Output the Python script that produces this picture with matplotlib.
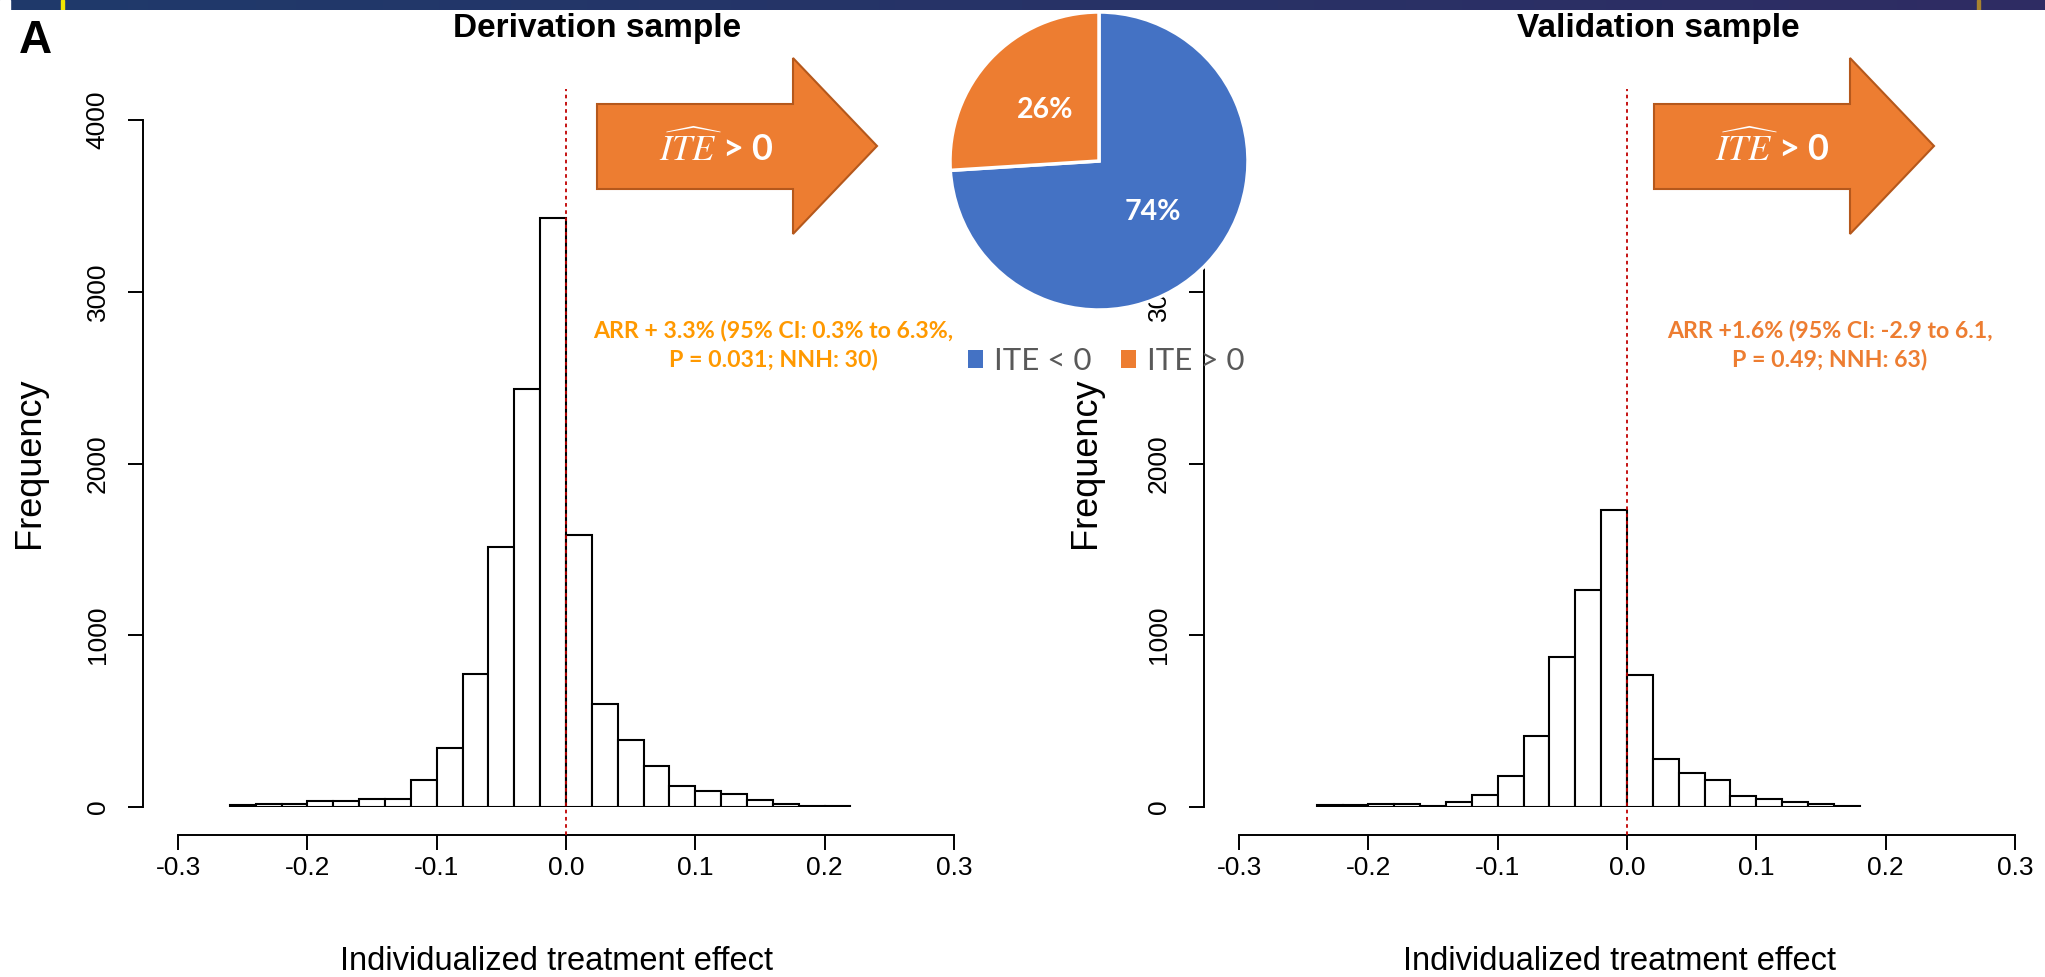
import numpy as np
import matplotlib
matplotlib.use("Agg")
import matplotlib.pyplot as plt
from matplotlib.patches import Polygon, Patch

# ---------------- data ----------------
bin_width = 0.02
deriv_start = -0.26
deriv_counts = [10, 15, 15, 35, 35, 49, 49, 159, 344, 773, 1515, 2435, 3430,
                1586, 598, 388, 241, 122, 91, 78, 39, 17, 8, 8]
valid_start = -0.24
valid_counts = [10, 10, 17, 17, 8, 29, 68, 179, 414, 874, 1262, 1728,
                771, 282, 200, 159, 62, 49, 27, 17, 8]

x_ticks = [-0.3, -0.2, -0.1, 0.0, 0.1, 0.2, 0.3]
x_ticklabels = ["-0.3", "-0.2", "-0.1", "0.0", "0.1", "0.2", "0.3"]
y_ticks = [0, 1000, 2000, 3000, 4000]
y_ticklabels = ["0", "1000", "2000", "3000", "4000"]

titles = ["Derivation sample", "Validation sample"]
xlabel = "Individualized treatment effect"
ylabel = "Frequency"

pie_labels = ["ITE < 0", "ITE > 0"]
pie_values = [74, 26]
pie_colors = ["#4472C4", "#ED7D31"]

arrow_text = r"$\widehat{ITE}$ > 0"
ann_left = ["ARR + 3.3% (95% CI: 0.3% to 6.3%,", "P = 0.031; NNH: 30)"]
ann_right = ["ARR +1.6% (95% CI: -2.9 to 6.1,", "P = 0.49; NNH: 63)"]
panel_letter = "A"

# ---------------- figure ----------------
W, H = 2045, 977
plt.rcParams["mathtext.fontset"] = "stix"
fig = plt.figure(figsize=(W / 100, H / 100), dpi=100)
fig.patch.set_facecolor("white")


def fx(px):
    return px / W


def fy(py):
    return 1 - py / H


AXFONT = "Liberation Sans"
CAL = "Lato"

panels = [
    dict(left=143, right=960, zero=566, start=deriv_start, counts=deriv_counts,
         title=titles[0], title_x=597, ylab_x=29),
    dict(left=1204, right=2025, zero=1627, start=valid_start, counts=valid_counts,
         title=titles[1], title_x=1658, ylab_x=1086),
]
px_per_unit = 1293.0  # pixels per 1.0 of x
top_px, base_px, axis_px = 120, 807, 835

axes = []
for p in panels:
    ax = fig.add_axes([fx(p["left"]), fy(base_px), fx(p["right"]) - fx(p["left"]),
                       (base_px - top_px) / H])
    ax.set_facecolor("none")
    edges = [p["start"] + i * bin_width for i in range(len(p["counts"]))]
    ax.bar(edges, p["counts"], width=bin_width, align="edge", facecolor="white",
           edgecolor="black", linewidth=1.5, zorder=2)
    ax.set_xlim((p["left"] - p["zero"]) / px_per_unit, (p["right"] - p["zero"]) / px_per_unit)
    ax.set_ylim(0, 4000)
    for s in ["top", "right"]:
        ax.spines[s].set_visible(False)
    ax.spines["left"].set_bounds(0, 4000)
    ax.spines["bottom"].set_bounds(-0.3, 0.3)
    ax.spines["bottom"].set_position(("outward", (axis_px - base_px) * 0.72))
    for s in ["left", "bottom"]:
        ax.spines[s].set_linewidth(1.4)
    ax.set_xticks(x_ticks)
    ax.set_xticklabels(x_ticklabels, fontsize=19, family=AXFONT)
    ax.set_yticks(y_ticks)
    ax.set_yticklabels(y_ticklabels, fontsize=19, family=AXFONT, rotation=90, va="center")
    ax.tick_params(axis="both", length=11, width=1.4, color="black")
    ax.tick_params(axis="y", pad=13)
    ax.tick_params(axis="x", pad=4)
    # vertical reference line at 0
    units_per_px = 4000 / (base_px - top_px)
    ax.plot([0, 0], [-(axis_px - base_px) * units_per_px, (base_px - 89) * units_per_px],
            color="#C00000", linestyle=(0, (2, 2)), linewidth=1.3, clip_on=False, zorder=3)
    fig.text(fx(p["title_x"]), fy(28), p["title"], ha="center", va="center",
             fontsize=24, fontweight="bold", family=AXFONT)
    fig.text(fx(p["ylab_x"]), fy(463), ylabel, rotation=90, ha="center", va="center",
             fontsize=26, family=AXFONT)
    fig.text(fx((p["left"] + p["right"]) / 2 + 5), fy(962), xlabel, ha="center", va="center",
             fontsize=23.5, family=AXFONT)
    axes.append(ax)

fig.text(fx(19), fy(41), panel_letter, ha="left", va="center", fontsize=33,
         fontweight="bold", family=AXFONT)

# ---------------- arrows ----------------
def arrow(body_l, head_x, tip_x, body_t=104, body_b=189, head_t=58, head_b=234):
    tip_y = (head_t + head_b) / 2
    pts = [(body_l, body_t), (head_x, body_t), (head_x, head_t), (tip_x, tip_y),
           (head_x, head_b), (head_x, body_b), (body_l, body_b)]
    pts = [(fx(a), fy(b)) for a, b in pts]
    poly = Polygon(pts, closed=True, transform=fig.transFigure, facecolor="#ED7D31",
                   edgecolor="#B5581C", linewidth=1.5, zorder=5)
    fig.add_artist(poly)


arrow(597, 793, 877)
arrow(1654, 1850, 1934)
for cx in [716, 1772]:
    fig.text(fx(cx), fy(148), arrow_text, ha="center", va="center", fontsize=26,
             color="white", fontweight="bold", family=CAL, zorder=6)

# ---------------- annotations ----------------
for lines, cx, col in [(ann_left, 773, "#FF9900"), (ann_right, 1830, "#ED7D31")]:
    for line, cy in zip(lines, [331, 360]):
        fig.text(fx(cx), fy(cy), line, ha="center", va="center", fontsize=16.7,
                 fontweight="bold", color=col, family=CAL)

# ---------------- pie ----------------
pc_x, pc_y, pr = 1099, 161, 149
pax = fig.add_axes([fx(pc_x - pr), fy(pc_y + pr), 2 * pr / W, 2 * pr / H])
wedges, texts, autotexts = pax.pie(
    pie_values, colors=pie_colors, startangle=90, counterclock=False,
    wedgeprops=dict(edgecolor="white", linewidth=2.5),
    autopct=lambda v: f"{v:.0f}%", pctdistance=0.5,
    textprops=dict(color="white", fontsize=20.5, fontweight="bold", family=CAL))
pax.set_xlim(-1.0, 1.0)
pax.set_ylim(-1.0, 1.0)
pax.set_aspect("auto")

handles = [Patch(facecolor=c, edgecolor="none") for c in pie_colors]
leg = fig.legend(handles, pie_labels, loc="center", bbox_to_anchor=(fx(1106), fy(361)),
                 ncol=2, frameon=False, prop=dict(family=CAL, size=22.5),
                 handlelength=0.48, handleheight=0.48, handletextpad=0.35,
                 columnspacing=0.95, labelcolor="#595959", borderpad=0)

# ---------------- top banner ----------------
bax = fig.add_axes([0, 1 - 10 / H, 1, 10 / H])
c0 = np.array([31, 58, 107]) / 255
c1 = np.array([47, 44, 99]) / 255
t = np.linspace(0, 1, 512)[None, :, None]
grad = c0 + (c1 - c0) * t
bax.imshow(grad, aspect="auto", extent=(0, W, 0, 1))
bax.axvspan(0, 10, color="white")
bax.axvspan(61, 64, color="#F2E600")
bax.axvspan(1977, 1980, color="#A8832F")
bax.set_xlim(0, W)
bax.set_ylim(0, 1)
bax.axis("off")

fig.savefig("out.png", dpi=100, facecolor="white")
